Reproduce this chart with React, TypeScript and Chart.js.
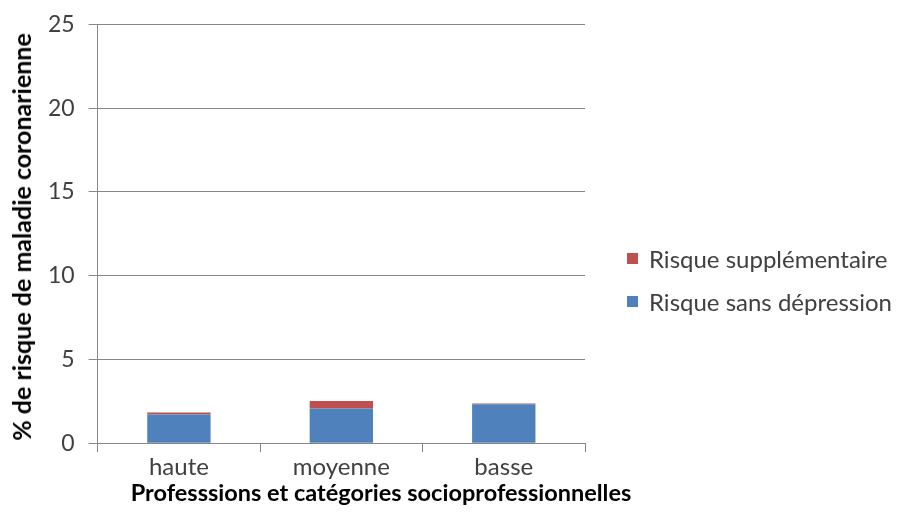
import React, { useEffect, useRef } from "react";
import { Chart, registerables } from "chart.js";

Chart.register(...registerables);

const categories = ["haute", "moyenne", "basse"];
const risqueSansDepression = [1.71, 2.07, 2.33];
const risqueSupplementaire = [0.12, 0.45, 0.04];
const yTicks = [0, 5, 10, 15, 20, 25];
const seriesLabels = ["Risque sans dépression", "Risque supplémentaire"];
const seriesColors = ["#4F81BD", "#C0504D"];
const xTitle = "Professsions et catégories socioprofessionnelles";
const yTitle = "% de risque de maladie coronarienne";

const FONT = "Lato, 'Open Sans', sans-serif";
const TEXT = "#404040";
const GRID = "#878787";

export default function App() {
  const ref = useRef<HTMLCanvasElement | null>(null);

  useEffect(() => {
    if (!ref.current) return;
    const chart = new Chart(ref.current, {
      type: "bar",
      data: {
        labels: categories,
        datasets: [
          {
            label: seriesLabels[0],
            data: risqueSansDepression,
            backgroundColor: seriesColors[0],
            barPercentage: 0.39,
            categoryPercentage: 1,
          },
          {
            label: seriesLabels[1],
            data: risqueSupplementaire,
            backgroundColor: seriesColors[1],
            barPercentage: 0.39,
            categoryPercentage: 1,
          },
        ],
      },
      options: {
        animation: false,
        responsive: true,
        maintainAspectRatio: false,
        layout: { padding: { top: 0, right: 315, bottom: 48, left: 34 } },
        plugins: {
          tooltip: { enabled: false },
          legend: { display: false },
        },
        scales: {
          x: {
            stacked: true,
            grid: {
              display: true,
              drawOnChartArea: false,
              drawTicks: true,
              tickLength: 9,
              color: GRID,
              offset: true,
            },
            border: { color: GRID },
            ticks: { color: TEXT, font: { family: FONT, size: 24 }, padding: 1 },
          },
          y: {
            stacked: true,
            min: 0,
            max: 25,
            afterBuildTicks: (axis: any) => {
              axis.ticks = yTicks.map((v) => ({ value: v }));
            },
            grid: { color: GRID, tickLength: 9 },
            border: { color: GRID },
            ticks: { color: TEXT, font: { family: FONT, size: 23, lineHeight: 0.9 }, padding: 14 },
          },
        },
      },
    });
    return () => chart.destroy();
  }, []);

  const legendItems = [1, 0];

  return (
    <div style={{ position: "fixed", left: 0, top: 0, width: 900, height: 531, background: "#fff" }}>
      <canvas ref={ref} />
      <div
        style={{
          position: "absolute",
          left: 381,
          top: 492,
          transform: "translate(-50%, -50%)",
          whiteSpace: "nowrap",
          fontFamily: FONT,
          fontWeight: "bold",
          fontSize: 23.5,
          color: "#000",
        }}
      >
        {xTitle}
      </div>
      <div
        style={{
          position: "absolute",
          left: 21,
          top: 237,
          transform: "translate(-50%, -50%) rotate(-90deg)",
          whiteSpace: "nowrap",
          fontFamily: FONT,
          fontWeight: "bold",
          fontSize: 25,
          color: "#000",
        }}
      >
        {yTitle}
      </div>
      <div style={{ position: "absolute", left: 627, top: 244, fontFamily: FONT, fontSize: 24, color: TEXT }}>
        {legendItems.map((i) => (
          <div key={i} style={{ display: "flex", alignItems: "center", height: 28, marginBottom: 15, whiteSpace: "nowrap" }}>
            <span style={{ display: "inline-block", width: 11, height: 11, background: seriesColors[i], marginRight: 11 }} />
            <span>{seriesLabels[i]}</span>
          </div>
        ))}
      </div>
    </div>
  );
}
